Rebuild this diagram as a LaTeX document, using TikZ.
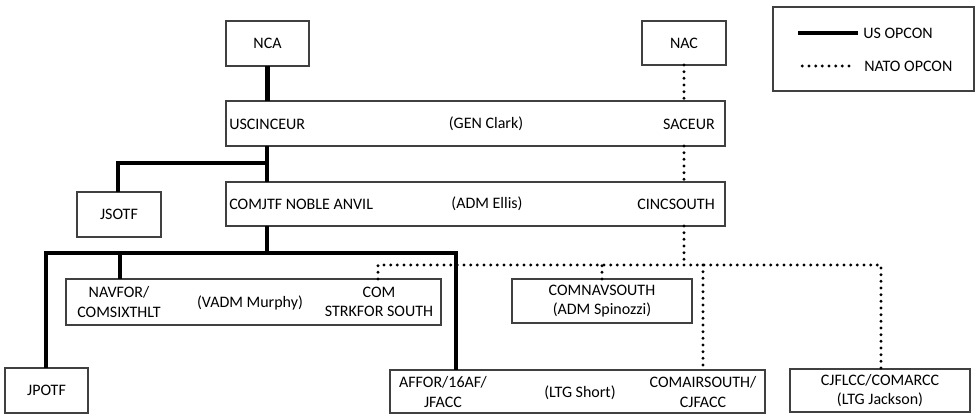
\documentclass[tikz,border=0pt]{standalone}
\usepackage{fontspec}
\setmainfont{Carlito}
\usetikzlibrary{calc}
\begin{document}
\begin{tikzpicture}[x=0.75pt,y=-0.75pt,
  bx/.style 2 args={draw=black!75, line width=0.8pt, minimum width=#1*0.75pt,
    minimum height=#2*0.75pt, inner sep=0pt, outer sep=0pt,
    font=\fontsize{12}{14.3}\selectfont, align=center},
  txt/.style={inner sep=0pt, font=\fontsize{12}{14.3}\selectfont, align=center},
  us/.style={line width=3.2pt, line join=miter},
  nato/.style={line width=2.4pt, line cap=round, dash pattern=on 0pt off 5pt},
]
\useasboundingbox (0,0) rectangle (975,416);

% boxes
\node[bx={83}{45}] (nca) at (267.5,43.5) {NCA};
\node[bx={84}{44}] (nac) at (684,43) {NAC};
\node[bx={499}{45}] (usc) at (475.5,123.5) {};
\node[bx={499}{44}] (jtf) at (475.5,204) {};
\node[bx={84}{45}] (jsotf) at (119,214.5) {JSOTF};
\node[bx={375}{46}] (navfor) at (253.5,302) {};
\node[bx={180}{44}] (comnav) at (602,301) {COMNAVSOUTH\\(ADM Spinozzi)};
\node[bx={83}{45}] (jpotf) at (46.5,390.5) {JPOTF};
\node[bx={375}{43}] (affor) at (577.5,391.5) {};
\node[bx={180}{43}] (cjflcc) at (880,390.5) {CJFLCC/COMARCC\\(LTG Jackson)};
\node[bx={201}{84}] (legend) at (873.5,49) {};

% texts in wide boxes
\node[txt, anchor=west] (uscl) at (229,124) {USCINCEUR};
\node[txt] (uscm) at (486,124) {(GEN Clark)};
\node[txt, anchor=east] (uscr) at (715,124) {SACEUR};
\node[txt, anchor=west] (jtfl) at (229,204) {COMJTF NOBLE ANVIL};
\node[txt] (jtfm) at (487,204) {(ADM Ellis)};
\node[txt, anchor=east] (jtfr) at (715,204) {CINCSOUTH};
\node[txt] (navl) at (119,302) {NAVFOR/\\COMSIXTHLT};
\node[txt] (navm) at (250,303) {(VADM Murphy)};
\node[txt] (navr) at (379,302) {COM\\STRKFOR SOUTH};
\node[txt] (affl) at (443,392) {AFFOR/16AF/\\JFACC};
\node[txt] (affm) at (580,393) {(LTG Short)};
\node[txt] (affr) at (703,392) {COMAIRSOUTH/\\CJFACC};

% legend
\node[txt, anchor=west] (lgus) at (863,33) {US OPCON};
\node[txt, anchor=west] (lgnato) at (864,66) {NATO OPCON};
\draw[us] (lgus.west) ++(-5,0) -- ++(-60,0);
\draw[nato] (lgnato.west) ++(-15,0) -- ++(-51,0);

% US OPCON connectors
\coordinate (b1) at (267,163);
\coordinate (b2) at (267,253);
\coordinate (b3) at (456,253);
\coordinate (b4) at (120,253);
\draw[us] (nca.south) -- (usc.north -| nca.south);
\draw[us] (usc.south -| b1) -- (jtf.north -| b1);
\draw[us] (b1) -| (jsotf.north -| 118,0);
\draw[us] (jtf.south -| b2) -- (b2);
\draw[us] (jpotf.north -| 46,0) |- (b3) -- (b3 |- affor.north);
\draw[us] (navfor.north -| b4) -- (b4);

% NATO OPCON connectors
\coordinate (d1) at (684,265);
\coordinate (d2) at (378,265);
\coordinate (d3) at (881,265);
\coordinate (d4) at (703,265);
\draw[nato] (nac.south) -- (usc.north -| nac.south);
\draw[nato] (usc.south -| d1) -- (jtf.north -| d1);
\draw[nato] (jtf.south -| d1) -- (d1);
\draw[nato] (navfor.north -| d2) |- (d3) -- (d3 |- cjflcc.north);
\draw[nato] (comnav.north) -- (comnav.north |- d1);
\draw[nato] (d4) -- (d4 |- affor.north);
\end{tikzpicture}
\end{document}
